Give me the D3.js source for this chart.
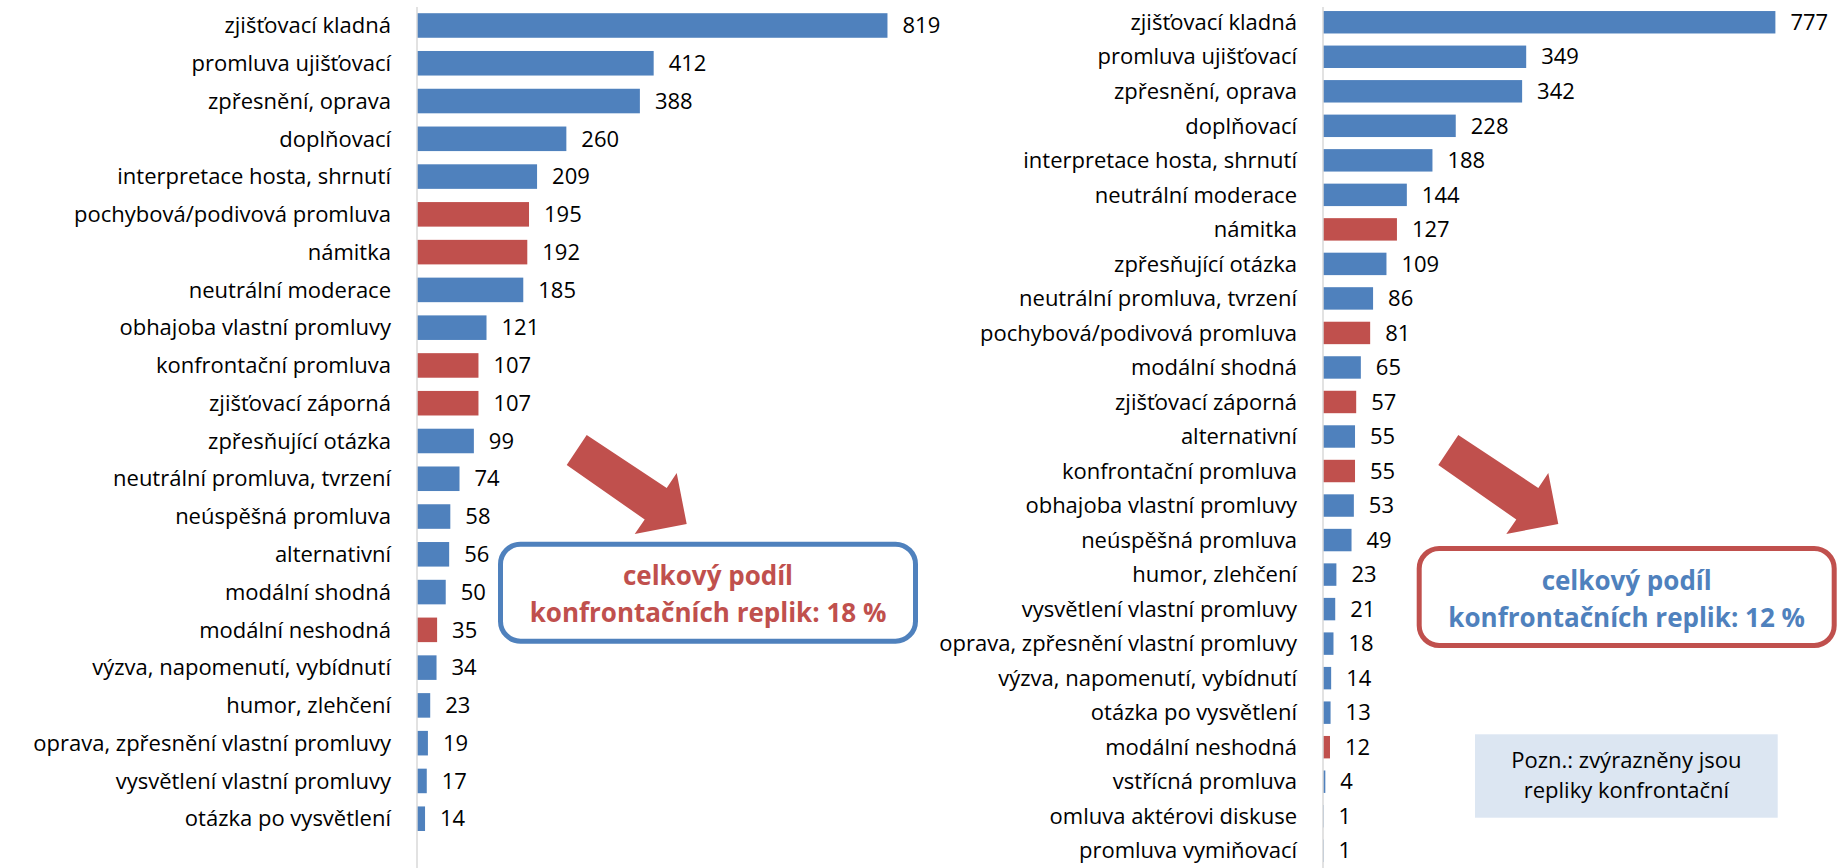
<!DOCTYPE html>
<html>
<head>
<meta charset="utf-8">
<script src="https://cdn.jsdelivr.net/npm/d3@7"></script>
<style>
  body { margin: 0; background: #fff; }
  svg { display: block; font-family: "Open Sans", "Noto Sans", sans-serif; }
</style>
</head>
<body>
<svg id="chart" width="1844" height="868"></svg>
<script>
// left chart (first programme)
const leftCategories = [
  'zjišťovací kladná', 'promluva ujišťovací', 'zpřesnění, oprava', 'doplňovací',
  'interpretace hosta, shrnutí', 'pochybová/podivová promluva', 'námitka',
  'neutrální moderace', 'obhajoba vlastní promluvy', 'konfrontační promluva',
  'zjišťovací záporná', 'zpřesňující otázka', 'neutrální promluva, tvrzení',
  'neúspěšná promluva', 'alternativní', 'modální shodná', 'modální neshodná',
  'výzva, napomenutí, vybídnutí', 'humor, zlehčení',
  'oprava, zpřesnění vlastní promluvy', 'vysvětlení vlastní promluvy',
  'otázka po vysvětlení'
];
const leftValues = [819, 412, 388, 260, 209, 195, 192, 185, 121, 107, 107, 99, 74, 58, 56, 50, 35, 34, 23, 19, 17, 14];

// right chart (second programme)
const rightCategories = [
  'zjišťovací kladná', 'promluva ujišťovací', 'zpřesnění, oprava', 'doplňovací',
  'interpretace hosta, shrnutí', 'neutrální moderace', 'námitka',
  'zpřesňující otázka', 'neutrální promluva, tvrzení', 'pochybová/podivová promluva',
  'modální shodná', 'zjišťovací záporná', 'alternativní', 'konfrontační promluva',
  'obhajoba vlastní promluvy', 'neúspěšná promluva', 'humor, zlehčení',
  'vysvětlení vlastní promluvy', 'oprava, zpřesnění vlastní promluvy',
  'výzva, napomenutí, vybídnutí', 'otázka po vysvětlení', 'modální neshodná',
  'vstřícná promluva', 'omluva aktérovi diskuse', 'promluva vymiňovací'
];
const rightValues = [777, 349, 342, 228, 188, 144, 127, 109, 86, 81, 65, 57, 55, 55, 53, 49, 23, 21, 18, 14, 13, 12, 4, 1, 1];

// categories highlighted as confrontational
const confrontational = [
  'pochybová/podivová promluva', 'námitka', 'konfrontační promluva',
  'zjišťovací záporná', 'modální neshodná'
];

const shareTexts = ['celkový podíl', 'konfrontačních replik: 18 %', 'konfrontačních replik: 12 %'];
const noteLines = ['Pozn.: zvýrazněny jsou', 'repliky konfrontační'];

const blue = '#4F81BD';
const red = '#C0504D';
const axisGrey = '#D9D9D9';

const svg = d3.select('#chart');

function drawBars(cfg) {
  const data = cfg.categories.map((c, i) => ({ name: c, value: cfg.values[i] }));

  const x = d3.scaleLinear().domain([0, 900]).range(cfg.xRange);
  const y = d3.scaleBand()
    .domain(cfg.categories)
    .range(cfg.yRange)
    .paddingInner(0.35)
    .paddingOuter(0.175);

  const g = svg.append('g');

  g.selectAll('rect.bar')
    .data(data)
    .enter().append('rect')
    .attr('class', 'bar')
    .attr('x', x(0))
    .attr('y', d => y(d.name))
    .attr('width', d => x(d.value) - x(0))
    .attr('height', y.bandwidth())
    .attr('fill', d => confrontational.includes(d.name) ? red : blue);

  // vertical category axis line
  g.append('line')
    .attr('x1', x(0)).attr('x2', x(0))
    .attr('y1', 7).attr('y2', 868)
    .attr('stroke', axisGrey)
    .attr('stroke-width', 1.5);

  // category labels
  g.selectAll('text.cat')
    .data(data)
    .enter().append('text')
    .attr('class', 'cat')
    .attr('x', x(0) - 26)
    .attr('y', d => y(d.name) + y.bandwidth() / 2)
    .attr('dy', '0.35em')
    .attr('text-anchor', 'end')
    .attr('font-size', 22)
    .attr('fill', '#000')
    .text(d => d.name);

  // value labels
  g.selectAll('text.val')
    .data(data)
    .enter().append('text')
    .attr('class', 'val')
    .attr('x', d => x(d.value) + 15)
    .attr('y', d => y(d.name) + y.bandwidth() / 2)
    .attr('dy', '0.35em')
    .attr('font-size', 22)
    .attr('fill', '#000')
    .text(d => d.value);
}

drawBars({ categories: leftCategories, values: leftValues, xRange: [417, 934], yRange: [6.6, 837.6] });
drawBars({ categories: rightCategories, values: rightValues, xRange: [1323, 1847], yRange: [5, 868] });

// arrows pointing down-right, shape given relative to the tip
const arrowShape = [[-100, -89], [-120, -59], [-42, -4.5], [-52, 10], [0, 0], [-10, -51], [-20, -36]];
function drawArrow(tx, ty) {
  svg.append('polygon')
    .attr('points', arrowShape.map(p => [tx + p[0], ty + p[1]].join(',')).join(' '))
    .attr('fill', red);
}
drawArrow(686.7, 524);
drawArrow(1558.3, 524);

// rounded boxes with the share of confrontational replies
function drawShareBox(bx, by, stroke, textColor, line2) {
  const w = 415, h = 97;
  svg.append('rect')
    .attr('x', bx).attr('y', by)
    .attr('width', w).attr('height', h)
    .attr('rx', 20).attr('ry', 20)
    .attr('fill', '#fff')
    .attr('stroke', stroke)
    .attr('stroke-width', 5);
  svg.append('text')
    .attr('x', bx + w / 2).attr('y', by + 41)
    .attr('text-anchor', 'middle')
    .attr('font-size', 26).attr('font-weight', 'bold')
    .attr('fill', textColor)
    .text(shareTexts[0]);
  svg.append('text')
    .attr('x', bx + w / 2).attr('y', by + 78)
    .attr('text-anchor', 'middle')
    .attr('font-size', 26).attr('font-weight', 'bold')
    .attr('fill', textColor)
    .text(line2);
}
drawShareBox(500.5, 544.2, blue, red, shareTexts[1]);
drawShareBox(1419.2, 548.5, red, blue, shareTexts[2]);

// note box
svg.append('rect')
  .attr('x', 1475).attr('y', 734.3)
  .attr('width', 302.7).attr('height', 83.4)
  .attr('fill', '#DCE6F2');
noteLines.forEach((t, i) => {
  svg.append('text')
    .attr('x', 1626.4).attr('y', 768.3 + i * 30)
    .attr('text-anchor', 'middle')
    .attr('font-size', 22)
    .attr('fill', '#000')
    .text(t);
});
</script>
</body>
</html>
